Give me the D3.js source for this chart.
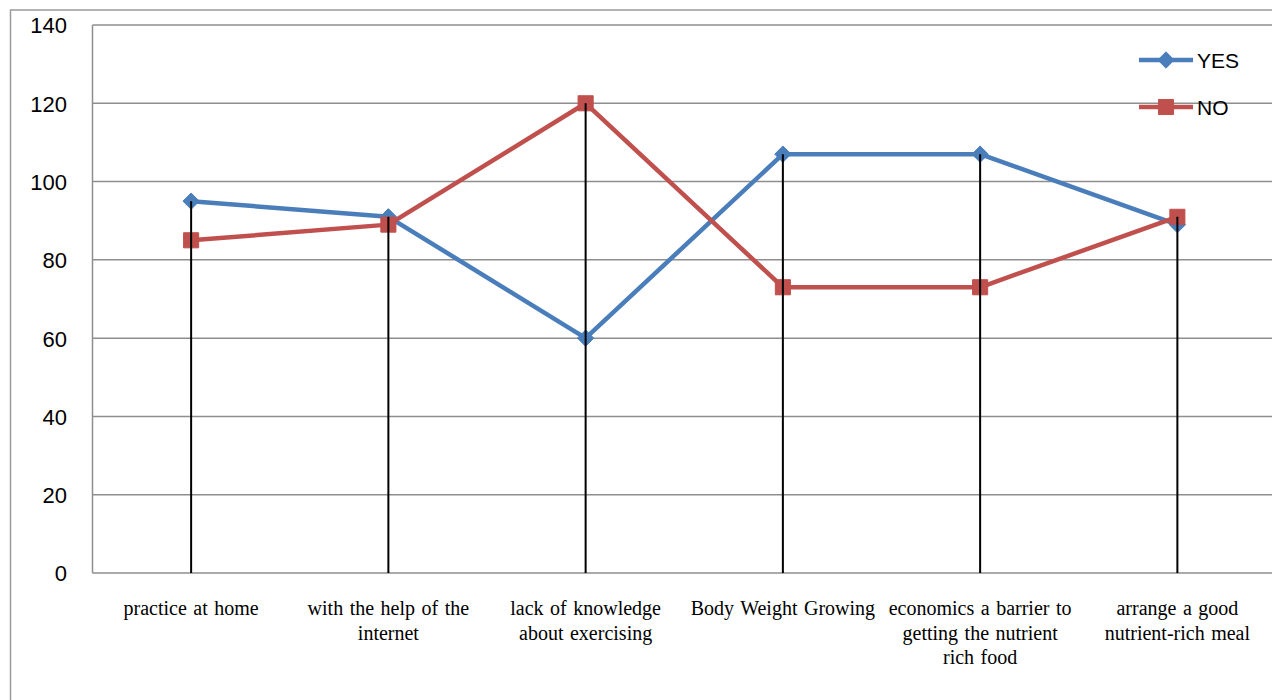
<!DOCTYPE html>
<html>
<head>
<meta charset="utf-8">
<script src="https://cdn.jsdelivr.net/npm/d3@7"></script>
<style>
  html, body { margin: 0; padding: 0; background: #fff; overflow: hidden; }
  svg { display: block; }
</style>
</head>
<body>
<svg id="chart" width="1272" height="700"></svg>
<script>
const categories = [
  "practice at home",
  "with the help of the internet",
  "lack of knowledge about exercising",
  "Body Weight Growing",
  "economics a barrier to getting the nutrient rich food",
  "arrange a good nutrient-rich meal"
];
const categoryLines = [
  ["practice at home"],
  ["with the help of the", "internet"],
  ["lack of knowledge", "about exercising"],
  ["Body Weight Growing"],
  ["economics a barrier to", "getting the nutrient", "rich food"],
  ["arrange a good", "nutrient-rich meal"]
];
const yesValues = [95, 91, 60, 107, 107, 89];
const noValues = [85, 89, 120, 73, 73, 91];
const yTicks = [0, 20, 40, 60, 80, 100, 120, 140];
const seriesNames = ["YES", "NO"];

const svg = d3.select("#chart");
const plot = { left: 92.5, top: 25, bottom: 573, right: 1276 };

const x = d3.scaleBand().domain(categories).range([plot.left, plot.right]);
const y = d3.scaleLinear().domain([0, 140]).range([plot.bottom, plot.top]);
const cx = c => x(c) + x.bandwidth() / 2;

// outer chart border
svg.append("rect")
  .attr("x", 10.5).attr("y", 10).attr("width", 1400).attr("height", 800)
  .attr("fill", "none").attr("stroke", "#9a9a9a").attr("stroke-width", 1.5);

// gridlines
svg.append("g").selectAll("line").data(yTicks).join("line")
  .attr("x1", plot.left).attr("x2", plot.right + 10)
  .attr("y1", d => y(d)).attr("y2", d => y(d))
  .attr("stroke", "#8e8e8e").attr("stroke-width", 1.5);

// left plot border
svg.append("line")
  .attr("x1", plot.left).attr("x2", plot.left)
  .attr("y1", plot.top).attr("y2", plot.bottom)
  .attr("stroke", "#8e8e8e").attr("stroke-width", 1.5);

// y axis labels
const yAxis = d3.axisLeft(y).tickValues(yTicks).tickSize(0).tickPadding(0);
const yg = svg.append("g").attr("transform", `translate(67,0)`).call(yAxis);
yg.select(".domain").remove();
yg.selectAll("text")
  .attr("font-family", "'Liberation Sans', Arial, sans-serif")
  .attr("font-size", 22).attr("fill", "#000").attr("dy", "0.36em").attr("x", 0);

// x labels
const xl = svg.append("g");
categories.forEach((c, i) => {
  const t = xl.append("text")
    .attr("x", cx(c)).attr("y", 615)
    .attr("text-anchor", "middle")
    .attr("font-family", "'Liberation Serif', 'Times New Roman', serif")
    .attr("font-size", 20).attr("word-spacing", 1.5).attr("fill", "#000");
  categoryLines[i].forEach((ln, j) => {
    t.append("tspan").attr("x", cx(c)).attr("y", 615 + j * 24.5).text(ln);
  });
});

const line = d3.line().x((d, i) => cx(categories[i])).y(d => y(d));
const colors = { YES: "#4a7ebb", NO: "#c0504d" };

// series lines
[[yesValues, "YES"], [noValues, "NO"]].forEach(([vals, name]) => {
  svg.append("path").datum(vals)
    .attr("d", line).attr("fill", "none")
    .attr("stroke", colors[name]).attr("stroke-width", 4.5)
    .attr("stroke-linejoin", "round");
});

const diamond = d3.symbol().type(d3.symbolDiamond2).size(170);
const square = d3.symbol().type(d3.symbolSquare2).size(290);

function drawMarkers(vals, name) {
  svg.append("g").selectAll("path").data(vals).join("path")
    .attr("transform", (d, i) => `translate(${cx(categories[i])},${y(d)})`)
    .attr("d", name === "YES" ? diamond() : square())
    .attr("fill", colors[name]).attr("stroke", colors[name]).attr("stroke-width", 1);
}
drawMarkers(yesValues, "YES");
drawMarkers(noValues, "NO");

// drop lines
svg.append("g").selectAll("line").data(categories).join("line")
  .attr("x1", c => cx(c)).attr("x2", c => cx(c))
  .attr("y1", (c, i) => y(Math.max(yesValues[i], noValues[i])))
  .attr("y2", y(0))
  .attr("stroke", "#000").attr("stroke-width", 2);

// legend
const legend = svg.append("g");
seriesNames.forEach((name, i) => {
  const ly = 60 + i * 47;
  legend.append("line").attr("x1", 1139).attr("x2", 1193).attr("y1", ly).attr("y2", ly)
    .attr("stroke", colors[name]).attr("stroke-width", 4.5);
  legend.append("path")
    .attr("transform", `translate(1166,${ly})`)
    .attr("d", name === "YES" ? diamond() : square())
    .attr("fill", colors[name]).attr("stroke", colors[name]).attr("stroke-width", 1);
  legend.append("text").attr("x", 1197).attr("y", ly).attr("dy", "0.36em")
    .attr("font-family", "'Liberation Sans', Arial, sans-serif")
    .attr("font-size", 21).attr("fill", "#000").text(name);
});
</script>
</body>
</html>
